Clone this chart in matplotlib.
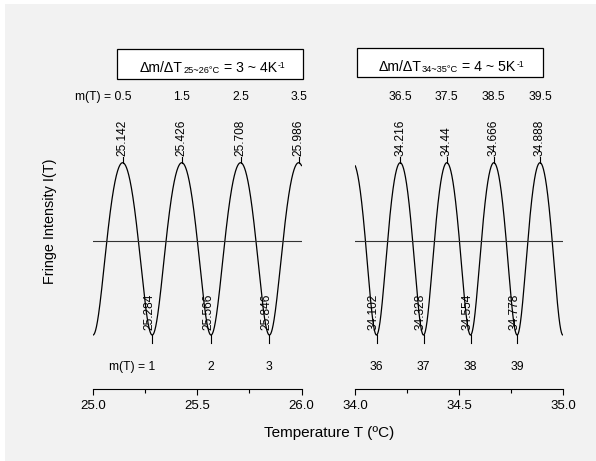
import numpy as np
import matplotlib
matplotlib.use("Agg")
import matplotlib.pyplot as plt
from matplotlib.patches import Rectangle

plt.rcParams['font.family'] = ['Liberation Sans', 'DejaVu Sans']

# 25-26 C panel
left_peak_t = [25.142, 25.426, 25.708, 25.986]
left_peak_m = [0.5, 1.5, 2.5, 3.5]
left_trough_t = [25.284, 25.566, 25.846]
left_trough_m = [1, 2, 3]
left_xticks = [25.0, 25.5, 26.0]
left_title = ('Δm/ΔT', '25~26°C', ' = 3 ~ 4K', '-1')

# 34-35 C panel
right_peak_t = [34.216, 34.44, 34.666, 34.888]
right_peak_m = [36.5, 37.5, 38.5, 39.5]
right_trough_t = [34.102, 34.328, 34.554, 34.778]
right_trough_m = [36, 37, 38, 39]
right_xticks = [34.0, 34.5, 35.0]
right_title = ('Δm/ΔT', '34~35°C', ' = 4 ~ 5K', '-1')

finesse_coef = 0.48   # shape of the fringes
mid_level = 0.095     # reference (mean) intensity line


def fringe_order(t, t_ext, m_ext):
    order = np.argsort(t_ext)
    t_ext = np.asarray(t_ext, float)[order]
    m_ext = np.asarray(m_ext, float)[order]
    m = np.interp(t, t_ext, m_ext)
    s0 = (m_ext[1] - m_ext[0]) / (t_ext[1] - t_ext[0])
    s1 = (m_ext[-1] - m_ext[-2]) / (t_ext[-1] - t_ext[-2])
    lo, hi = t < t_ext[0], t > t_ext[-1]
    m[lo] = m_ext[0] + s0 * (t[lo] - t_ext[0])
    m[hi] = m_ext[-1] + s1 * (t[hi] - t_ext[-1])
    return m


def intensity(m):
    s = np.sin(np.pi * m) ** 2
    r = finesse_coef * s / (1 + finesse_coef * s)
    return 2 * r / (finesse_coef / (1 + finesse_coef)) - 1


def boxed_title(ax, x, y, parts):
    main, sub, rest, sup = parts
    t1 = ax.text(x, y, main, ha='left', va='baseline', fontsize=10.2, zorder=4)
    t2 = ax.annotate(sub, (1, 0), xycoords=t1, xytext=(0.3, -0.5), textcoords='offset points',
                     ha='left', va='bottom', fontsize=6.7, zorder=4)
    t3 = ax.annotate(rest, (1, 0), xycoords=t2, xytext=(0, 0.5), textcoords='offset points',
                     ha='left', va='bottom', fontsize=10.2, zorder=4)
    ax.annotate(sup, (1, 1), xycoords=t3, xytext=(0.6, 0), textcoords='offset points',
                ha='left', va='top', fontsize=6.2, zorder=4)


fig = plt.figure(figsize=(5.96, 4.61), dpi=100)
fig.patches.append(Rectangle((5 / 596, 0), 1, 457 / 461, transform=fig.transFigure,
                             facecolor='#f2f2f2', edgecolor='none', zorder=-10))

ax_l = fig.add_axes([93 / 596, 0.1555, 208.5 / 596, 0.7794])
ax_r = fig.add_axes([355.3 / 596, 0.1555, 208 / 596, 0.7794])

panels = [
    (ax_l, left_peak_t, left_peak_m, left_trough_t, left_trough_m, left_xticks,
     left_title, (25.114, 1.972, 0.895, 0.344), (25.225, 2.056)),
    (ax_r, right_peak_t, right_peak_m, right_trough_t, right_trough_m, right_xticks,
     right_title, (34.008, 1.991, 0.892, 0.337), (34.112, 2.067)),
]

for i, (ax, pt, pm, tt, tm, xt, title, box, tpos) in enumerate(panels):
    ax.set_facecolor('none')
    ax.set_xlim(xt[0], xt[-1])
    ax.set_ylim(-1.630, 2.540)

    t = np.linspace(xt[0], xt[-1], 1500)
    m = fringe_order(t, pt + tt, pm + tm)
    ax.plot(t, intensity(m), color='black', lw=0.9)
    ax.axhline(mid_level, color='#333333', lw=0.8)

    for x in pt:
        ax.plot([x, x], [1, 1.07], color='black', lw=0.8)
        ax.text(x, 1.078, f'{x:g}', rotation=90, ha='center', va='bottom', fontsize=8.6)
    for x in tt:
        ax.plot([x, x], [-1, -1.09], color='black', lw=0.8)
        ax.annotate(f'{x:g}', (x, -0.942), xytext=(-1.8, 0), textcoords='offset points',
                    rotation=90, ha='center', va='bottom', fontsize=8.6)

    for j, (x, mv) in enumerate(zip(pt, pm)):
        if i == 0 and j == 0:
            ax.annotate(f'm(T) = {mv:g}', (x, 1.728), xytext=(6.2, 0),
                        textcoords='offset points', ha='right', va='baseline', fontsize=8.7)
        else:
            ax.text(x, 1.728, f'{mv:g}', ha='center', va='baseline', fontsize=8.7)
    for j, (x, mv) in enumerate(zip(tt, tm)):
        if i == 0 and j == 0:
            ax.annotate(f'm(T) = {mv:g}', (x, -1.406), xytext=(2.2, 0),
                        textcoords='offset points', ha='right', va='baseline', fontsize=8.7)
        else:
            ax.text(x, -1.406, f'{mv:g}', ha='center', va='baseline', fontsize=8.7)

    ax.add_patch(Rectangle(box[:2], box[2], box[3], facecolor='white', edgecolor='black',
                           lw=0.9, clip_on=False, zorder=3))
    boxed_title(ax, tpos[0], tpos[1], title)

    for side in ['left', 'right', 'top']:
        ax.spines[side].set_visible(False)
    ax.spines['bottom'].set_linewidth(0.8)
    ax.spines['bottom'].set_bounds(xt[0], xt[-1])
    ax.set_yticks([])
    ax.set_xticks(xt)
    ax.set_xticklabels([f'{v:.1f}' for v in xt])
    ax.set_xticks([(xt[0] + xt[1]) / 2, (xt[1] + xt[2]) / 2], minor=True)
    ax.tick_params(axis='x', which='major', length=4.6, width=0.8, pad=3, labelsize=9.5)
    ax.tick_params(axis='x', which='minor', length=3.0, width=0.8)

fig.text(329.5 / 596, 1 - 432.7 / 461, 'Temperature T (ºC)', ha='center', va='center', fontsize=11)
fig.text(50 / 596, 1 - 221.7 / 461, 'Fringe Intensity I(T)', rotation=90,
         ha='center', va='center', fontsize=10.4)

fig.savefig('out.png', dpi=100, facecolor='white')
